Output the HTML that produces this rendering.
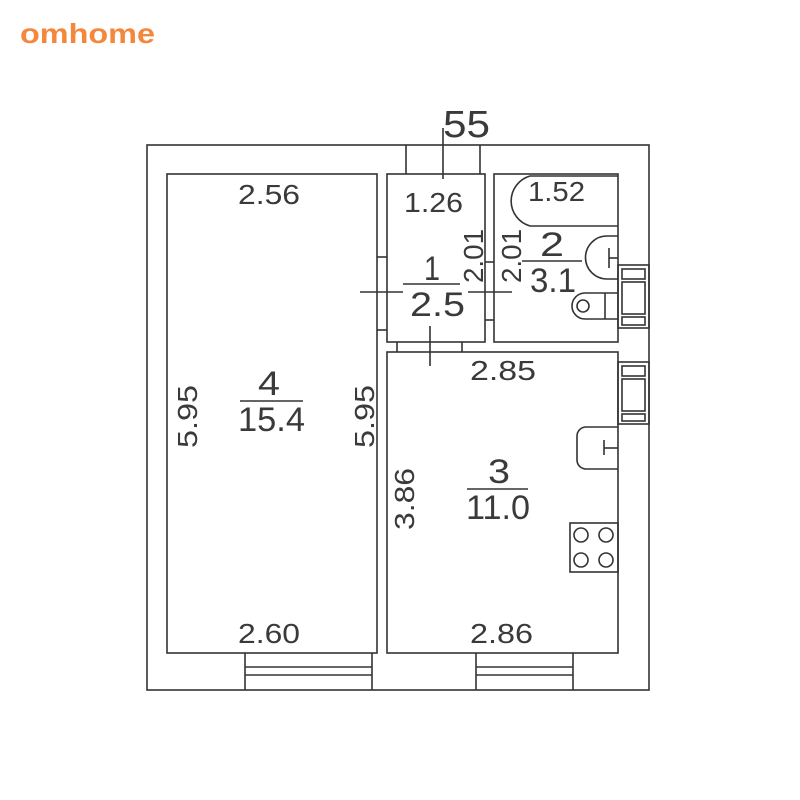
<!DOCTYPE html>
<html><head><meta charset="utf-8"><style>
html,body{margin:0;padding:0;background:#fff;width:800px;height:800px;overflow:hidden}
svg text{font-family:"Liberation Sans",sans-serif;fill:#3a3a3a}
</style></head><body>
<svg width="800" height="800" viewBox="0 0 800 800" xmlns="http://www.w3.org/2000/svg">
<text x="20" y="43" textLength="135" lengthAdjust="spacingAndGlyphs" style="font-size:28px;font-weight:bold;fill:#f5873a">omhome</text>
<g fill="none" stroke="#333" stroke-width="1.6">
<rect x="147" y="145" width="502" height="545"/>
<rect x="167" y="174" width="210" height="479"/>
<rect x="387" y="174" width="98" height="168"/>
<rect x="494" y="174" width="124" height="168"/>
<rect x="387" y="352" width="231" height="301"/>
<line x1="406" y1="145" x2="406" y2="174"/><line x1="480" y1="145" x2="480" y2="174"/>
<line x1="377" y1="257" x2="387" y2="257"/><line x1="377" y1="330" x2="387" y2="330"/>
<line x1="485" y1="262" x2="494" y2="262"/><line x1="485" y1="320" x2="494" y2="320"/>
<line x1="397" y1="342" x2="397" y2="352"/><line x1="462" y1="342" x2="462" y2="352"/>
<line x1="245" y1="653" x2="245" y2="690"/><line x1="372" y1="653" x2="372" y2="690"/>
<line x1="245" y1="667" x2="372" y2="667"/><line x1="245" y1="675" x2="372" y2="675"/>
<line x1="476" y1="653" x2="476" y2="690"/><line x1="573" y1="653" x2="573" y2="690"/>
<line x1="476" y1="667" x2="573" y2="667"/><line x1="476" y1="675" x2="573" y2="675"/>
<rect x="618" y="265" width="31" height="63"/>
<rect x="622" y="269" width="23" height="10"/><rect x="622" y="282" width="23" height="32"/><rect x="622" y="317" width="23" height="8"/>
<rect x="618" y="362" width="31" height="62"/>
<rect x="622" y="366" width="23" height="10"/><rect x="622" y="379" width="23" height="32"/><rect x="622" y="414" width="23" height="7"/>
<path d="M618 226 H530 A26 26 0 0 1 530 176 H618"/>
<path d="M618 236 H607 A17 17 0 0 0 607 279 H618"/>
<line x1="609" y1="248" x2="609" y2="268"/><line x1="609" y1="258" x2="618" y2="258"/>
<path d="M618 293 H585 A13 13 0 0 0 585 319 H618"/>
<circle cx="583" cy="306" r="6"/><line x1="605" y1="293" x2="605" y2="319"/>
<path d="M618 427 H586 A9 9 0 0 0 577 436 V460 A9 9 0 0 0 586 469 H618"/>
<line x1="604" y1="440" x2="604" y2="455"/><line x1="604" y1="448" x2="618" y2="448"/>
<rect x="570" y="523" width="48" height="49"/>
<circle cx="581" cy="535" r="7"/><circle cx="606" cy="535" r="7"/>
<circle cx="581" cy="560" r="7"/><circle cx="606" cy="560" r="7"/>
<line x1="443" y1="128" x2="443" y2="179"/>
<line x1="360" y1="292" x2="403" y2="292"/>
<line x1="403" y1="284" x2="460" y2="284"/>
<line x1="468" y1="292" x2="512" y2="292"/>
<line x1="430" y1="326" x2="430" y2="366"/>
<line x1="522" y1="261" x2="582" y2="261"/>
<line x1="240" y1="401" x2="303" y2="401"/>
<line x1="467" y1="489" x2="528" y2="489"/>
</g>
<g style="font-size:28px">
<text x="443" y="137" textLength="47" lengthAdjust="spacingAndGlyphs" style="font-size:38px">55</text>
<text x="404" y="212" textLength="59" lengthAdjust="spacingAndGlyphs">1.26</text>
<text x="528" y="201" textLength="57" lengthAdjust="spacingAndGlyphs">1.52</text>
<text x="238" y="204" textLength="62" lengthAdjust="spacingAndGlyphs">2.56</text>
<text x="424" y="280" textLength="16" lengthAdjust="spacingAndGlyphs" style="font-size:34px">1</text>
<text x="410" y="316" textLength="55" lengthAdjust="spacingAndGlyphs" style="font-size:34px">2.5</text>
<text x="540" y="256" textLength="24" lengthAdjust="spacingAndGlyphs" style="font-size:34px">2</text>
<text x="530" y="292" textLength="46" lengthAdjust="spacingAndGlyphs" style="font-size:34px">3.1</text>
<text x="470" y="380" textLength="66" lengthAdjust="spacingAndGlyphs">2.85</text>
<text x="258" y="395" textLength="22" lengthAdjust="spacingAndGlyphs" style="font-size:34px">4</text>
<text x="238" y="431" textLength="67" lengthAdjust="spacingAndGlyphs" style="font-size:34px">15.4</text>
<text x="488" y="483" textLength="22" lengthAdjust="spacingAndGlyphs" style="font-size:34px">3</text>
<text x="466" y="519" textLength="64" lengthAdjust="spacingAndGlyphs" style="font-size:34px">11.0</text>
<text x="238" y="643" textLength="62" lengthAdjust="spacingAndGlyphs">2.60</text>
<text x="470" y="643" textLength="63" lengthAdjust="spacingAndGlyphs">2.86</text>
<text transform="translate(197,448) rotate(-90)" textLength="63" lengthAdjust="spacingAndGlyphs">5.95</text>
<text transform="translate(374,448) rotate(-90)" textLength="63" lengthAdjust="spacingAndGlyphs">5.95</text>
<text transform="translate(414,530) rotate(-90)" textLength="62" lengthAdjust="spacingAndGlyphs">3.86</text>
<text transform="translate(483,283) rotate(-90)" textLength="54" lengthAdjust="spacingAndGlyphs">2.01</text>
<text transform="translate(521,283) rotate(-90)" textLength="54" lengthAdjust="spacingAndGlyphs">2.01</text>
</g>
</svg>
</body></html>
